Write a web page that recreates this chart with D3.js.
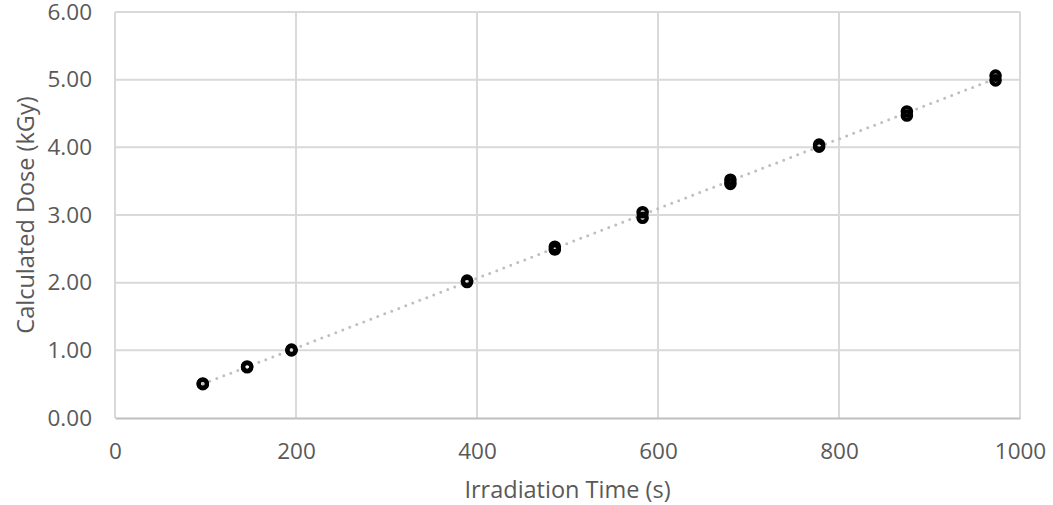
<!DOCTYPE html>
<html>
<head>
<meta charset="utf-8">
<script src="https://cdn.jsdelivr.net/npm/d3@7"></script>
<style>
  html, body { margin: 0; padding: 0; background: #fff; }
  svg { display: block; }
</style>
</head>
<body>
<svg id="chart" width="1053" height="505"></svg>
<script>
const irradiationTime = [97, 97, 146, 146, 195, 195, 389, 389, 486, 486, 583, 583, 680, 680, 778, 778, 875, 875, 973, 973];
const calculatedDose  = [0.50, 0.51, 0.75, 0.76, 1.00, 1.01, 2.01, 2.03, 2.49, 2.53, 2.96, 3.04, 3.46, 3.52, 4.01, 4.04, 4.47, 4.53, 4.99, 5.06];
const xTicks = [0, 200, 400, 600, 800, 1000];
const yTicks = [0, 1, 2, 3, 4, 5, 6];
const xTitle = "Irradiation Time (s)";
const yTitle = "Calculated Dose (kGy)";

(function () {
const svg = d3.select("#chart");
const pLeft = 115, pRight = 1020, pTop = 12, pBottom = 418;
const x = d3.scaleLinear().domain([0, 1000]).range([pLeft, pRight]);
const y = d3.scaleLinear().domain([0, 6]).range([pBottom, pTop]);
const textColor = "#595959";
const font = "'Open Sans', sans-serif";
const fs = "22.5px";
const fsTitle = "23.5px";

// gridlines
svg.append("g").selectAll("line").data(yTicks.slice(1)).join("line")
  .attr("x1", pLeft).attr("x2", pRight)
  .attr("y1", d => y(d)).attr("y2", d => y(d))
  .attr("stroke", "#d9d9d9").attr("stroke-width", 2);
svg.append("g").selectAll("line").data(xTicks).join("line")
  .attr("x1", d => x(d)).attr("x2", d => x(d))
  .attr("y1", pTop).attr("y2", pBottom)
  .attr("stroke", "#d9d9d9").attr("stroke-width", 2);

// axes
const xAxis = svg.append("g").attr("transform", `translate(0,${pBottom})`)
  .call(d3.axisBottom(x).tickValues(xTicks).tickSize(0).tickPadding(25).tickFormat(d3.format("d")));
xAxis.select(".domain").attr("stroke", "#bfbfbf").attr("stroke-width", 2);
xAxis.selectAll("text").attr("fill", textColor).style("font-family", font).style("font-size", fs);

const yAxis = svg.append("g").attr("transform", `translate(${pLeft},0)`)
  .call(d3.axisLeft(y).tickValues(yTicks).tickSize(0).tickPadding(23).tickFormat(d3.format(".2f")));
yAxis.select(".domain").remove();
yAxis.selectAll("text").attr("fill", textColor).style("font-family", font).style("font-size", fs);

// trendline (least squares)
const n = irradiationTime.length;
const mx = d3.mean(irradiationTime), my = d3.mean(calculatedDose);
let sxy = 0, sxx = 0;
for (let i = 0; i < n; i++) {
  sxy += (irradiationTime[i] - mx) * (calculatedDose[i] - my);
  sxx += (irradiationTime[i] - mx) ** 2;
}
const slope = sxy / sxx, intercept = my - slope * mx;
const x0 = d3.min(irradiationTime), x1 = d3.max(irradiationTime);
svg.append("line")
  .attr("x1", x(x0)).attr("y1", y(intercept + slope * x0))
  .attr("x2", x(x1)).attr("y2", y(intercept + slope * x1))
  .attr("stroke", "#bfbfbf").attr("stroke-width", 3)
  .attr("stroke-linecap", "round").attr("stroke-dasharray", "0 7.5");

// points
svg.append("g").selectAll("circle").data(irradiationTime).join("circle")
  .attr("cx", d => x(d)).attr("cy", (d, i) => y(calculatedDose[i]))
  .attr("r", 4.2).attr("fill", "none").attr("stroke", "#000").attr("stroke-width", 4.2);

// titles
svg.append("text").attr("x", (pLeft + pRight) / 2).attr("y", 498)
  .attr("text-anchor", "middle").attr("fill", textColor)
  .style("font-family", font).style("font-size", fsTitle).text(xTitle);
svg.append("text").attr("transform", `translate(34,${(pTop + pBottom) / 2}) rotate(-90)`)
  .attr("text-anchor", "middle").attr("fill", textColor)
  .style("font-family", font).style("font-size", fsTitle).text(yTitle);
})();
</script>
</body>
</html>
